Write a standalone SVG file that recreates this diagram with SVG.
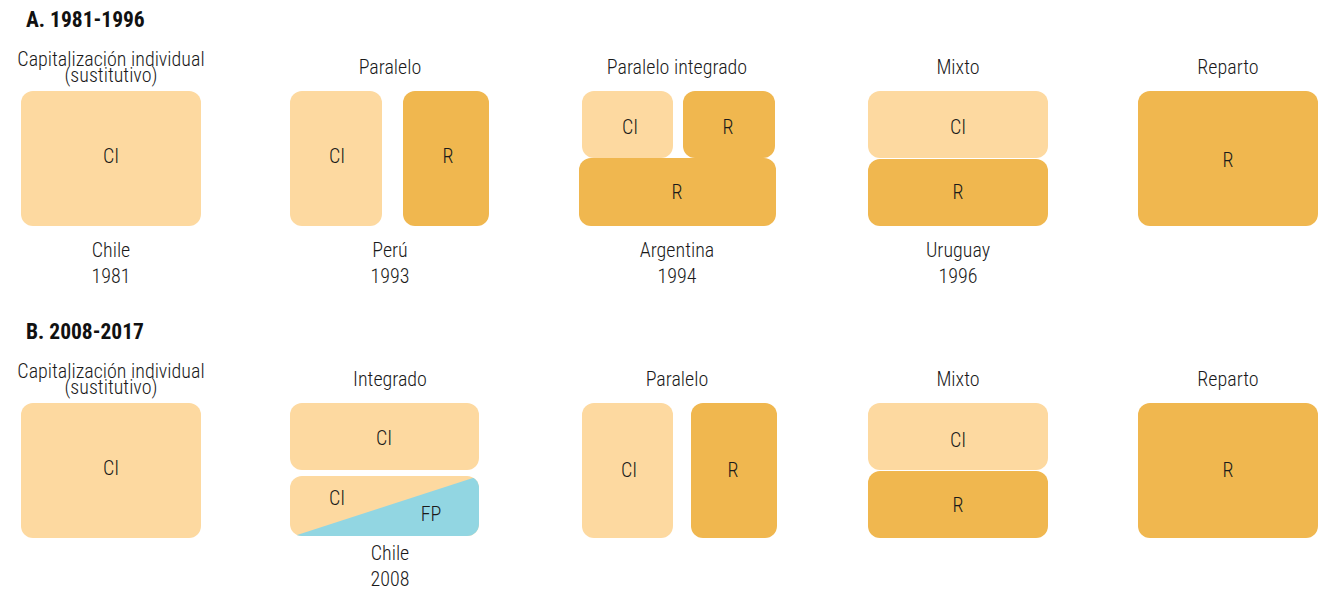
<svg xmlns="http://www.w3.org/2000/svg" width="1322" height="589" viewBox="0 0 1322 589">
<style>
text{font-family:"Roboto Condensed","Liberation Sans Narrow","DejaVu Sans Condensed",sans-serif;fill:#1a1a1a;text-anchor:middle;font-size:20px;font-weight:300}
.h{font-weight:bold;text-anchor:start;font-size:21.5px;fill:#111}
.l{fill:#FDD9A0}
.d{fill:#F0B74F}
.b{fill:#92D6E2}
</style>
<defs>
<clipPath id="cpInt"><rect x="290" y="476" width="189" height="60" rx="12"/></clipPath>
</defs>
<rect width="1322" height="589" fill="#fff"/>
<text class="h" x="26" y="27">A. 1981-1996</text>
<text class="h" x="26" y="339">B. 2008-2017</text>

<g id="a-ci">
<text x="111" y="66">Capitalización individual<tspan x="111" dy="16">(sustitutivo)</tspan></text>
<rect class="l" x="21" y="91" width="180" height="135" rx="12"/>
<text x="111" y="163">CI</text>
<text x="111" y="257">Chile<tspan x="111" dy="26">1981</tspan></text>
</g>
<g id="a-paralelo">
<text x="390" y="74">Paralelo</text>
<rect class="l" x="290" y="91" width="92" height="135" rx="12"/>
<rect class="d" x="403" y="91" width="86" height="135" rx="12"/>
<text x="337" y="163">CI</text>
<text x="448" y="163">R</text>
<text x="390" y="257">Perú<tspan x="390" dy="26">1993</tspan></text>
</g>
<g id="a-parint">
<text x="677" y="74">Paralelo integrado</text>
<rect class="l" x="582" y="91" width="91" height="67" rx="12"/>
<rect class="d" x="683" y="91" width="92" height="67" rx="12"/>
<rect class="d" x="579" y="158" width="197" height="68" rx="12"/>
<text x="630" y="134">CI</text>
<text x="728" y="134">R</text>
<text x="677" y="199">R</text>
<text x="677" y="257">Argentina<tspan x="677" dy="26">1994</tspan></text>
</g>
<g id="a-mixto">
<text x="958" y="74">Mixto</text>
<rect class="l" x="868" y="91" width="180" height="67" rx="12"/>
<rect class="d" x="868" y="159" width="180" height="67" rx="12"/>
<text x="958" y="134">CI</text>
<text x="958" y="199">R</text>
<text x="958" y="257">Uruguay<tspan x="958" dy="26">1996</tspan></text>
</g>
<g id="a-reparto">
<text x="1228" y="74">Reparto</text>
<rect class="d" x="1138" y="91" width="180" height="135" rx="12"/>
<text x="1228" y="167">R</text>
</g>

<g id="b-ci">
<text x="111" y="378">Capitalización individual<tspan x="111" dy="16">(sustitutivo)</tspan></text>
<rect class="l" x="21" y="403" width="180" height="135" rx="12"/>
<text x="111" y="475">CI</text>
</g>
<g id="b-integrado">
<text x="390" y="386">Integrado</text>
<rect class="l" x="290" y="403" width="189" height="67" rx="12"/>
<text x="384" y="445">CI</text>
<g clip-path="url(#cpInt)">
<rect class="l" x="290" y="476" width="189" height="60"/>
<polygon class="b" points="294,536 479,476 479,536"/>
</g>
<text x="337" y="505">CI</text>
<text x="431" y="521">FP</text>
<text x="390" y="560">Chile<tspan x="390" dy="26">2008</tspan></text>
</g>
<g id="b-paralelo">
<text x="677" y="386">Paralelo</text>
<rect class="l" x="582" y="403" width="91" height="135" rx="12"/>
<rect class="d" x="691" y="403" width="86" height="135" rx="12"/>
<text x="629" y="477">CI</text>
<text x="733" y="477">R</text>
</g>
<g id="b-mixto">
<text x="958" y="386">Mixto</text>
<rect class="l" x="868" y="403" width="180" height="67" rx="12"/>
<rect class="d" x="868" y="471" width="180" height="67" rx="12"/>
<text x="958" y="447">CI</text>
<text x="958" y="512">R</text>
</g>
<g id="b-reparto">
<text x="1228" y="386">Reparto</text>
<rect class="d" x="1138" y="403" width="180" height="135" rx="12"/>
<text x="1228" y="477">R</text>
</g>
<g id="connectors"/>
</svg>
